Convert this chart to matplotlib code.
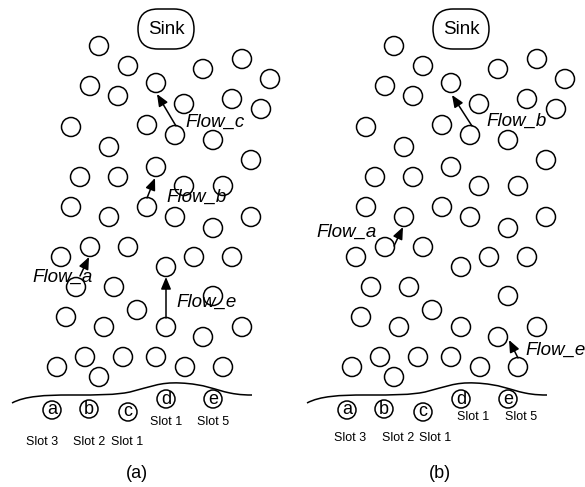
import matplotlib
matplotlib.use("Agg")
import matplotlib.pyplot as plt
from matplotlib.patches import Circle, FancyBboxPatch, PathPatch
from matplotlib.path import Path

plt.rcParams['font.family'] = ['Liberation Sans', 'DejaVu Sans']

# ---- data (panel-local pixel layout of panel (a); panel (b) is offset) ----
panel_offsets = [0, 295]
panel_names = ["(a)", "(b)"]

node_x = [99, 128, 203, 242, 270, 90, 156, 118, 184, 232, 261, 71, 147, 175, 213,
          109, 251, 80, 118, 156, 184, 223, 71, 109, 147, 175, 213, 251,
          61, 90, 128, 166, 194, 232, 76, 114, 213, 66, 137, 104, 166, 203, 242,
          57, 85, 99, 123, 156, 185, 223]
node_y = [46, 66, 69, 59, 79, 86, 83, 96, 104, 99, 109, 127, 125, 135, 140,
          147, 160, 177, 177, 167, 186, 186, 207, 217, 207, 217, 228, 217,
          257, 247, 247, 267, 257, 257, 287, 287, 296, 317, 310, 327, 327, 337, 327,
          367, 357, 377, 357, 357, 367, 367]

sink_center = (166, 29)

slot_letters = ["a", "b", "c", "d", "e"]
slot_x = [52, 89, 128, 166, 213]
slot_y = [410, 409, 412, 399, 399]

# slot-number labels per panel: (text, x, y)
slot_labels = [
    [("Slot 1", 166, 422), ("Slot 5", 213, 422),
     ("Slot 3", 42, 442), ("Slot 2", 89, 442), ("Slot 1", 127, 442)],
    [("Slot 1", 178, 417), ("Slot 5", 226, 417),
     ("Slot 3", 55, 438), ("Slot 2", 103, 438), ("Slot 1", 140, 438)],
]

# flows per panel: (label, tail x, tail y, head x, head y, text x, text y)
flows = [
    [("Flow_c", 176, 126, 157, 94, 215, 122),
     ("Flow_b", 147, 198, 155, 178, 197, 197),
     ("Flow_a", 80, 276, 89, 257, 63, 277),
     ("Flow_e", 166, 318, 166, 277, 207, 302)],
    [("Flow_b", 177, 126, 157, 95, 222, 121),
     ("Flow_a", 99, 246, 108, 227, 52, 232),
     ("Flow_e", 223, 358, 214, 340, 261, 350)],
]

# wavy boundary (cubic Bezier control points, panel-local)
curve_x = [12, 25, 45, 70, 100, 115, 130, 150, 160, 180, 205, 215, 230, 240, 247, 252]
curve_y = [403, 396, 395, 395, 395, 395, 392, 387, 382, 383, 384, 390, 393, 395, 395, 395]

caption_x = [137, 145]
caption_y = 473

R = 9.5
LW = 1.1

fig = plt.figure(figsize=(5.85, 4.87), dpi=100)
ax = fig.add_axes([0, 0, 1, 1])
ax.set_xlim(0, 585)
ax.set_ylim(487, 0)
ax.axis('off')

for p, off in enumerate(panel_offsets):
    # nodes
    for x, y in zip(node_x, node_y):
        ax.add_patch(Circle((x + off, y), R, fill=False, ec='black', lw=LW))
    # sink
    sx, sy = sink_center
    ax.add_patch(FancyBboxPatch((sx + off - 20, sy - 12), 40, 24,
                                boxstyle="round,pad=8,rounding_size=20",
                                fill=False, ec='black', lw=LW))
    ax.text(sx + off, sy, "Sink", ha='center', va='center', fontsize=13.5)
    # wavy boundary
    verts = [(cx + off, cy) for cx, cy in zip(curve_x, curve_y)]
    codes = [Path.MOVETO] + [Path.CURVE4] * (len(verts) - 1)
    ax.add_patch(PathPatch(Path(verts, codes), fill=False, ec='black', lw=LW))
    # slots
    for L, x, y in zip(slot_letters, slot_x, slot_y):
        ax.add_patch(Circle((x + off, y), 9, fill=False, ec='black', lw=LW))
        ax.text(x + off, y, L, ha='center', va='center', fontsize=13)
    for t, x, y in slot_labels[p]:
        ax.text(x + off, y, t, ha='center', va='center', fontsize=9)
    # flows
    for lab, tx, ty, hx, hy, lx, ly in flows[p]:
        ax.annotate("", xy=(hx + off, hy), xytext=(tx + off, ty),
                    arrowprops=dict(arrowstyle='-|>,head_length=0.6,head_width=0.25',
                                    lw=LW, color='black',
                                    mutation_scale=12, shrinkA=0, shrinkB=0))
        ax.text(lx + off, ly, lab, ha='center', va='center', fontsize=13.5,
                style='italic')
    ax.text(caption_x[p] + off, caption_y, panel_names[p], ha='center',
            va='center', fontsize=13)

fig.savefig("out.png", dpi=100)
